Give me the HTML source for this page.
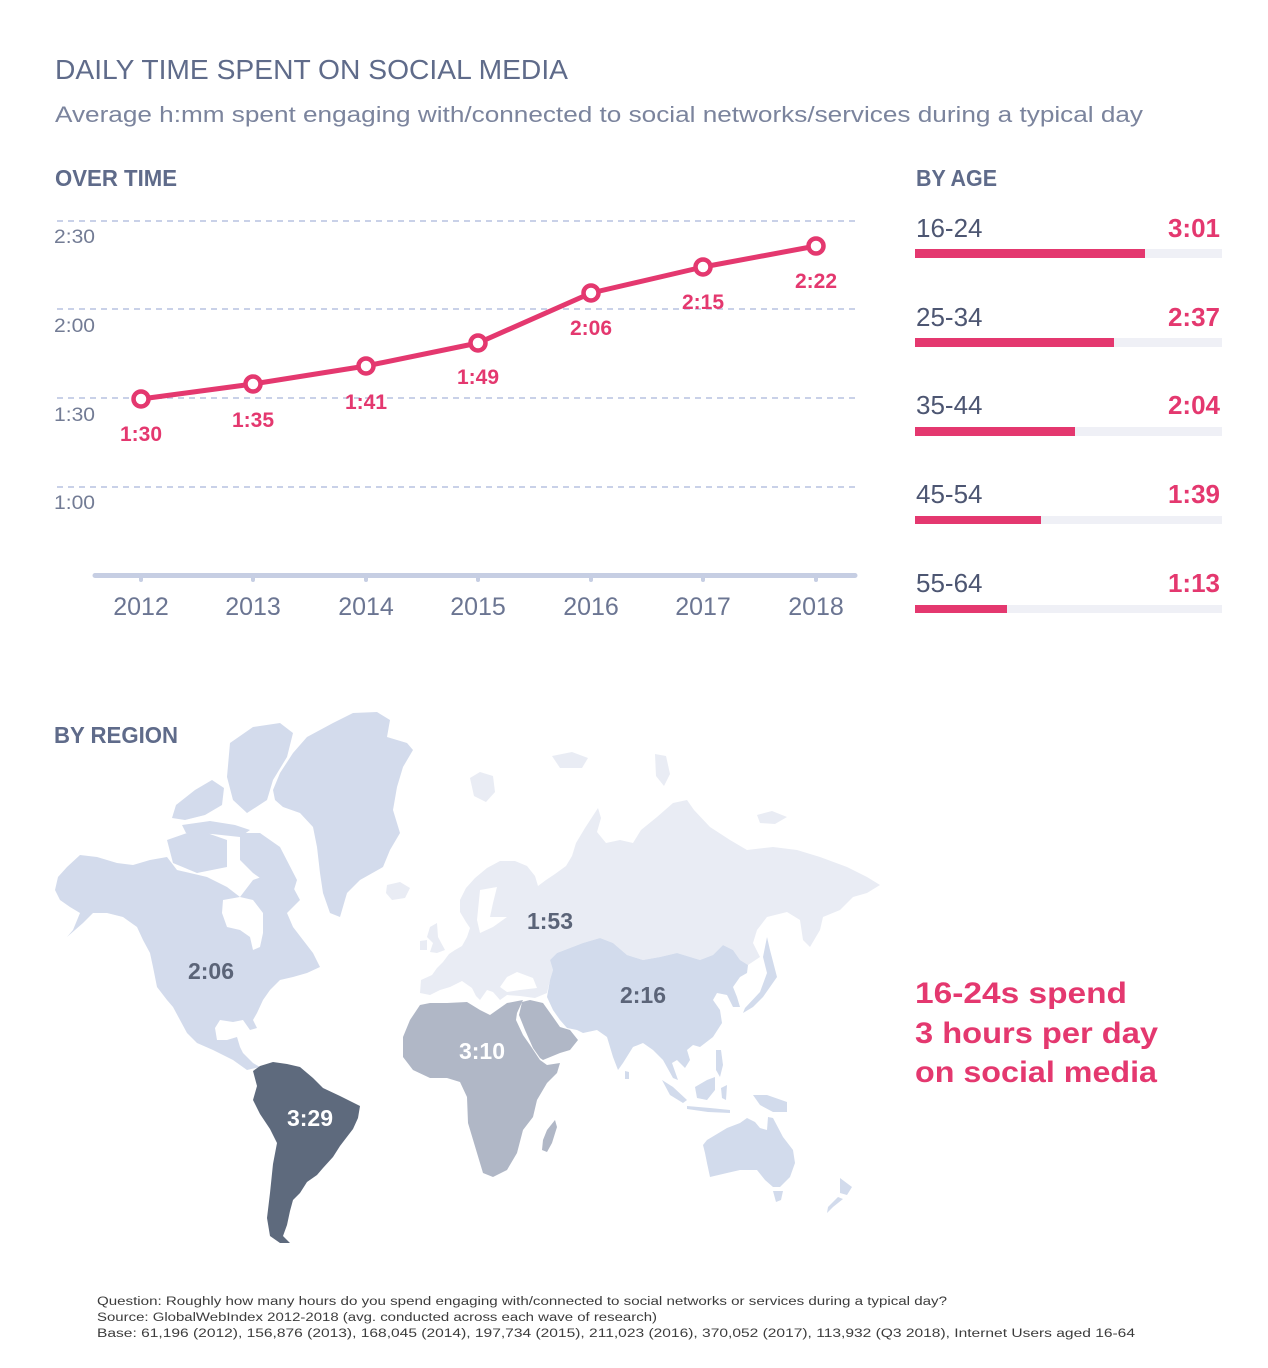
<!DOCTYPE html>
<html><head><meta charset="utf-8"><style>
html,body{margin:0;padding:0;background:#fff;}
svg{display:block;}
text{font-family:"Liberation Sans",sans-serif;}
</style></head><body>
<svg width="1268" height="1368" viewBox="0 0 1268 1368" xmlns="http://www.w3.org/2000/svg">
<rect width="1268" height="1368" fill="#fff"/>
<!-- Titles -->
<text x="55" y="79" font-size="27.5" fill="#5f6b8a" textLength="513" lengthAdjust="spacingAndGlyphs">DAILY TIME SPENT ON SOCIAL MEDIA</text>
<text x="55" y="122" font-size="22.5" fill="#7b849d" textLength="1088" lengthAdjust="spacingAndGlyphs">Average h:mm spent engaging with/connected to social networks/services during a typical day</text>
<text x="55" y="186" font-size="23" font-weight="bold" fill="#5f6b8a" textLength="122" lengthAdjust="spacingAndGlyphs">OVER TIME</text>
<text x="916" y="186" font-size="23" font-weight="bold" fill="#5f6b8a" textLength="81" lengthAdjust="spacingAndGlyphs">BY AGE</text>
<text x="54" y="743" font-size="23" font-weight="bold" fill="#5f6b8a" textLength="124" lengthAdjust="spacingAndGlyphs">BY REGION</text>

<!-- Line chart grid -->
<g stroke="#c9d1e8" stroke-width="2" stroke-dasharray="6 5">
<line x1="57" y1="221" x2="856" y2="221"/>
<line x1="57" y1="309" x2="856" y2="309"/>
<line x1="57" y1="398" x2="856" y2="398"/>
<line x1="57" y1="487" x2="856" y2="487"/>
</g>
<g font-size="19" fill="#737c95">
<text x="54" y="243" textLength="41" lengthAdjust="spacingAndGlyphs">2:30</text>
<text x="54" y="332" textLength="41" lengthAdjust="spacingAndGlyphs">2:00</text>
<text x="54" y="421" textLength="41" lengthAdjust="spacingAndGlyphs">1:30</text>
<text x="54" y="509" textLength="41" lengthAdjust="spacingAndGlyphs">1:00</text>
</g>
<!-- axis -->
<line x1="95" y1="575.5" x2="855" y2="575.5" stroke="#c6cee3" stroke-width="5" stroke-linecap="round"/>
<g fill="#c6cee3">
<rect x="139" y="576" width="4" height="6" rx="2"/>
<rect x="251" y="576" width="4" height="6" rx="2"/>
<rect x="364" y="576" width="4" height="6" rx="2"/>
<rect x="476" y="576" width="4" height="6" rx="2"/>
<rect x="589" y="576" width="4" height="6" rx="2"/>
<rect x="701" y="576" width="4" height="6" rx="2"/>
<rect x="814" y="576" width="4" height="6" rx="2"/>
</g>
<g font-size="25" fill="#6b7592" text-anchor="middle">
<text x="141" y="615">2012</text>
<text x="253" y="615">2013</text>
<text x="366" y="615">2014</text>
<text x="478" y="615">2015</text>
<text x="591" y="615">2016</text>
<text x="703" y="615">2017</text>
<text x="816" y="615">2018</text>
</g>
<!-- series -->
<polyline points="141,399 253,384 366,366 478,343 591,293 703,267 816,246" fill="none" stroke="#e4386f" stroke-width="5" stroke-linejoin="round"/>
<g fill="#fff" stroke="#e4386f" stroke-width="4.5">
<circle cx="141" cy="399" r="7.5"/>
<circle cx="253" cy="384" r="7.5"/>
<circle cx="366" cy="366" r="7.5"/>
<circle cx="478" cy="343" r="7.5"/>
<circle cx="591" cy="293" r="7.5"/>
<circle cx="703" cy="267" r="7.5"/>
<circle cx="816" cy="246" r="7.5"/>
</g>
<g font-size="21" font-weight="bold" fill="#e4386f" text-anchor="middle">
<text x="141" y="441">1:30</text>
<text x="253" y="427">1:35</text>
<text x="366" y="409">1:41</text>
<text x="478" y="384">1:49</text>
<text x="591" y="335">2:06</text>
<text x="703" y="309">2:15</text>
<text x="816" y="288">2:22</text>
</g>

<!-- Age bars -->
<g font-size="26" fill="#4d5672">
<text x="916" y="237">16-24</text>
<text x="916" y="326">25-34</text>
<text x="916" y="414">35-44</text>
<text x="916" y="503">45-54</text>
<text x="916" y="592">55-64</text>
</g>
<g font-size="26" font-weight="bold" fill="#e4386f" text-anchor="end">
<text x="1220" y="237">3:01</text>
<text x="1220" y="326">2:37</text>
<text x="1220" y="414">2:04</text>
<text x="1220" y="503">1:39</text>
<text x="1220" y="592">1:13</text>
</g>
<g fill="#eff0f6">
<rect x="915" y="249" width="307" height="9"/>
<rect x="915" y="338" width="307" height="9"/>
<rect x="915" y="427" width="307" height="9"/>
<rect x="915" y="516" width="307" height="8"/>
<rect x="915" y="605" width="307" height="8"/>
</g>
<g fill="#e4386f">
<rect x="915" y="249" width="230" height="9"/>
<rect x="915" y="338" width="199" height="9"/>
<rect x="915" y="427" width="160" height="9"/>
<rect x="915" y="516" width="126" height="8"/>
<rect x="915" y="605" width="92" height="8"/>
</g>

<!-- MAP -->
<!-- North America -->
<g fill="#d3dbec">
<polygon points="55,890 58,877 67,867 80,855 97,857 117,863 133,865 150,860 167,857 177,870 190,873 207,877 227,887 240,897 253,880 273,873 293,887 300,900 287,913 293,927 303,940 313,953 320,967 307,973 293,977 280,980 270,990 263,1000 257,1013 253,1020 257,1028 250,1030 243,1020 233,1022 220,1020 215,1028 217,1040 227,1040 237,1037 240,1047 243,1053 253,1063 260,1067 247,1070 233,1060 213,1050 197,1043 187,1033 180,1020 173,1007 167,1000 157,987 153,967 150,953 143,940 137,927 123,917 107,913 93,913 83,923 67,937 73,930 80,913 70,907 60,900"/>
<!-- Arctic islands -->
<polygon points="230,743 253,727 280,723 293,733 287,757 273,780 267,800 247,813 233,800 227,777"/>
<polygon points="195,790 212,780 224,788 222,805 205,815 185,820 172,818 176,805"/>
<polygon points="182,825 210,821 235,825 250,830 240,837 212,834 186,833"/>
<polygon points="167,840 187,833 207,833 227,840 227,867 197,873 173,863"/>
<polygon points="240,833 260,833 280,847 297,880 293,893 273,887 253,873 240,860"/>
<!-- Greenland -->
<polygon points="273,790 280,773 293,753 307,737 333,723 353,713 377,712 390,720 387,737 407,743 413,750 403,767 397,787 393,810 400,833 390,850 383,867 360,880 347,893 340,917 330,913 323,893 320,873 317,847 313,827 300,813 283,807 275,800"/>
</g>
<!-- Hudson Bay -->
<polygon fill="#fff" points="223,900 240,897 253,900 263,913 263,933 260,947 253,950 250,937 240,930 227,927 222,913"/>
<!-- South America -->
<polygon fill="#5e6a7d" points="253,1071 260,1066 273,1062 287,1064 300,1067 313,1078 323,1088 340,1096 360,1106 358,1118 353,1129 340,1146 333,1157 323,1168 317,1175 307,1182 300,1193 293,1200 290,1211 287,1225 283,1236 290,1243 280,1243 270,1236 267,1218 270,1193 273,1164 277,1143 270,1129 260,1114 253,1100 257,1086"/>
<!-- Europe / Russia -->
<g fill="#e9ecf4">
<polygon points="420,993 421,980 432,975 437,968 443,962 449,954 455,950 462,946 467,937 470,928 466,922 460,912 460,900 466,888 475,878 487,868 500,861 515,861 527,866 535,876 538,886 546,880 555,874 566,866 572,856 576,843 585,828 598,808 601,818 597,832 606,843 620,840 633,843 641,830 657,817 673,803 687,800 694,810 710,827 730,840 747,850 773,847 797,850 820,857 847,867 867,877 880,885 867,893 853,897 840,910 823,917 820,930 810,947 803,940 800,920 787,912 767,917 757,930 753,943 760,957 748,965 740,960 733,950 723,945 713,955 700,960 677,953 660,957 643,960 627,955 613,943 600,938 583,943 557,953 550,960 553,970 550,980 547,993 535,998 520,996 507,995 500,1000 493,992 487,990 480,1000 476,996 472,988 462,981 450,987 440,990 430,995"/>
<polygon points="430,927 437,923 438,937 445,950 437,953 430,952 433,943 427,937"/>
<polygon points="420,941 427,940 427,950 420,950"/>
<polygon points="387,885 400,882 410,888 405,898 392,900 386,893"/>
<polygon points="470,778 480,772 493,776 495,792 486,802 474,796"/>
<polygon points="552,756 572,752 588,758 582,768 560,768"/>
<polygon points="655,754 666,756 670,774 664,786 656,776"/>
<polygon points="757,815 772,811 787,817 775,824 760,823"/>
</g>
<!-- Baltic & Black sea -->
<polygon fill="#fff" points="480,890 497,887 493,903 490,917 507,917 493,927 480,933 477,920"/>
<polygon fill="#fff" points="500,987 507,977 517,972 533,978 537,988 520,990 507,992"/>
<!-- Africa + Arabia -->
<g fill="#b0b7c6">
<polygon points="430,1003 447,1003 467,1002 480,1010 490,1015 507,1003 523,1000 517,1013 516,1020 523,1035 530,1045 540,1060 547,1065 560,1063 557,1073 547,1083 537,1100 533,1117 523,1130 517,1153 507,1170 493,1177 483,1173 477,1153 468,1123 467,1097 460,1082 447,1078 430,1078 413,1070 403,1057 403,1037 410,1020 420,1005"/>
<polygon points="522,1002 530,1000 543,1003 553,1017 560,1027 570,1030 578,1040 570,1050 560,1053 543,1060 540,1058 533,1048 525,1030 519,1015"/>
<polygon points="543,1140 547,1130 555,1120 557,1127 552,1143 547,1152 542,1150"/>
</g>
<!-- APAC -->
<g fill="#d2dbec">
<polygon points="550,960 557,953 583,943 600,938 613,943 627,955 643,960 660,957 677,953 700,960 713,955 723,945 733,950 740,960 748,965 747,973 740,977 733,987 737,997 740,1007 733,1007 727,995 717,993 713,1000 720,1010 722,1023 713,1037 700,1047 693,1045 687,1050 690,1060 685,1068 677,1060 672,1063 678,1080 673,1078 663,1060 653,1050 643,1043 633,1047 623,1063 618,1070 613,1057 607,1037 597,1030 583,1033 577,1030 567,1028 560,1020 553,1010 547,997 550,980 553,970"/>
<polygon points="767,937 770,950 777,977 763,997 753,1007 743,1013 745,1008 760,992 767,973 763,957"/>
<polygon points="625,1071 629,1072 629,1079 625,1079"/>
<polygon points="662,1080 673,1087 687,1100 683,1103 670,1095"/>
<polygon points="695,1087 707,1080 715,1077 715,1090 707,1100 697,1098"/>
<polygon points="687,1106 710,1108 730,1110 730,1113 708,1112 687,1109"/>
<polygon points="716,1050 721,1050 723,1065 720,1077 716,1070"/>
<polygon points="721,1088 727,1085 726,1100 722,1098"/>
<polygon points="753,1095 767,1095 787,1102 787,1112 773,1112 760,1105"/>
<polygon points="703,1145 707,1140 727,1128 740,1123 747,1118 755,1122 760,1128 767,1130 768,1117 773,1118 783,1137 793,1150 795,1163 790,1177 780,1187 773,1187 765,1180 757,1170 740,1170 727,1173 710,1177 707,1163 705,1153"/>
<polygon points="773,1191 783,1191 781,1200 776,1202"/>
<polygon points="840,1178 852,1187 847,1195 840,1193"/>
<polygon points="838,1197 843,1199 833,1207 827,1213 828,1207"/>
</g>
<!-- Map labels -->
<g font-size="23" font-weight="bold" text-anchor="middle">
<text x="211" y="979" fill="#5b6478">2:06</text>
<text x="310" y="1126" fill="#ffffff">3:29</text>
<text x="482" y="1059" fill="#ffffff">3:10</text>
<text x="550" y="929" fill="#5b6478">1:53</text>
<text x="643" y="1003" fill="#5b6478">2:16</text>
</g>

<!-- Callout -->
<g font-size="30" font-weight="bold" fill="#e4386f">
<text x="915" y="1003" textLength="212" lengthAdjust="spacingAndGlyphs">16-24s spend</text>
<text x="915" y="1043" textLength="243" lengthAdjust="spacingAndGlyphs">3 hours per day</text>
<text x="915" y="1082" textLength="242" lengthAdjust="spacingAndGlyphs">on social media</text>
</g>

<!-- Footnote -->
<g font-size="11.5" fill="#3c3c3c">
<text x="97" y="1305" textLength="850" lengthAdjust="spacingAndGlyphs">Question: Roughly how many hours do you spend engaging with/connected to social networks or services during a typical day?</text>
<text x="97" y="1321" textLength="560" lengthAdjust="spacingAndGlyphs">Source: GlobalWebIndex 2012-2018 (avg. conducted across each wave of research)</text>
<text x="97" y="1337" textLength="1038" lengthAdjust="spacingAndGlyphs">Base: 61,196 (2012), 156,876 (2013), 168,045 (2014), 197,734 (2015), 211,023 (2016), 370,052 (2017), 113,932 (Q3 2018), Internet Users aged 16-64</text>
</g>
</svg>
</body></html>
